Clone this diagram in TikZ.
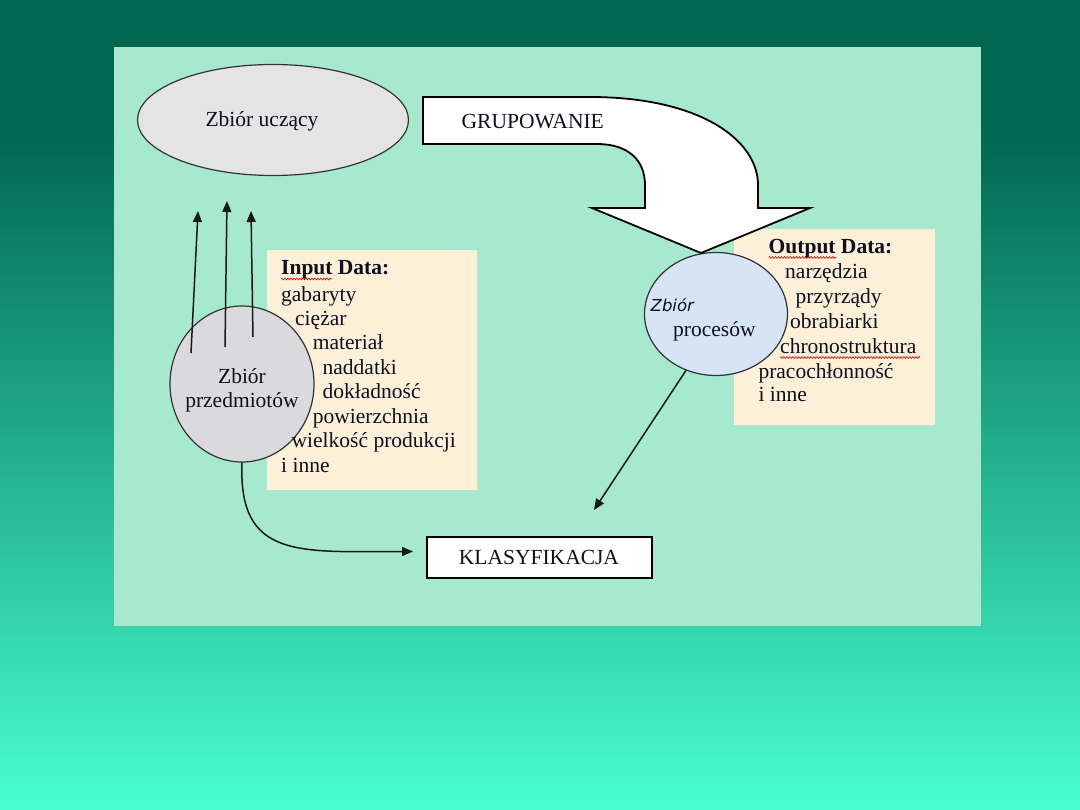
\documentclass[tikz,border=0pt]{standalone}
\usepackage{fontspec}
\setmainfont{Liberation Serif}
\newfontfamily\zbsans{DejaVu Sans}
\usetikzlibrary{arrows.meta,decorations.pathmorphing,shapes.geometric}
\definecolor{bgdark}{RGB}{0,102,79}
\definecolor{bglight}{RGB}{72,255,208}
\definecolor{panel}{RGB}{166,233,206}
\definecolor{beige}{RGB}{252,240,217}
\definecolor{ucz}{RGB}{228,228,228}
\definecolor{przed}{RGB}{218,218,222}
\definecolor{proc}{RGB}{214,228,245}
\definecolor{ink}{RGB}{15,15,30}
\begin{document}
\begin{tikzpicture}[x=1pt,y=-1pt,
  txt/.style={anchor=base west, inner sep=0pt, font=\fontsize{21.5}{24}\selectfont, text=ink},
  ctxt/.style={anchor=base, inner sep=0pt, font=\fontsize{21.5}{24}\selectfont, text=ink},
  databox/.style={fill=beige, draw=none},
  blob/.style={ellipse, draw=black!80, line width=1.2pt, inner sep=0pt},
  conn/.style={draw=black!90, line width=1.5pt, -{Triangle[length=11pt,width=9pt]}},
  squig/.style={draw=red!85!black, line width=0.6pt, decorate, decoration={snake, amplitude=0.9pt, segment length=3pt}}]
\useasboundingbox (0,0) rectangle (1080,810);
% background
\fill[bgdark] (0,0) rectangle (1080,131);
\shade[top color=bgdark, bottom color=bglight] (0,130) rectangle (1080,810);
\fill[panel] (114,47) rectangle (981,626);
% data boxes
\fill[databox] (267,250) rectangle (477,490);
\fill[databox] (734,229) rectangle (935,425);
% blobs
\node[blob, fill=ucz, minimum width=271pt, minimum height=111pt] (ucz) at (273,120) {};
\node[blob, fill=przed, minimum width=144pt, minimum height=156pt] (przed) at (242,384) {};
\node[blob, fill=proc, minimum width=143pt, minimum height=123pt] (proc) at (716,314) {};
% blob texts
\node[ctxt] (tucz) at (262,127) {Zbiór uczący};
\node[ctxt] (tprz1) at (242,384) {Zbiór};
\node[ctxt] (tprz2) at (242,408) {przedmiotów};
\node[txt, font=\zbsans\itshape\fontsize{16.5}{20}\selectfont] (tpr1) at (650.5,312) {Zbiór};
\node[txt] (tpr2) at (673,336.5) {procesów};
% big arrow GRUPOWANIE
\draw[fill=white, draw=black, line width=1.8pt, line join=miter]
  (423,97) -- (590,97) .. controls (700,97) and (758,140) .. (758,185)
  -- (758,208) -- (810,208) -- (701,253) -- (592,208) -- (645,208) -- (645,185)
  .. controls (645,160) and (628,144) .. (597,144) -- (423,144) -- cycle;
\node[txt] (grup) at (461.5,129) {GRUPOWANIE};
% KLASYFIKACJA
\node[draw=black, line width=2pt, fill=white, minimum width=225pt, minimum height=41.5pt, inner sep=0pt, font=\fontsize{21.5}{24}\selectfont, text=ink] (klas) at (539,557.5) {KLASYFIKACJA};
% input data
\node[txt] (in0) at (281,275) {\textbf{Input Data:}};
\node[txt] (in1) at (281,301.5) {gabaryty};
\node[txt] (in2) at (295,325.5) {ciężar};
\node[txt] (in3) at (312.7,350) {materiał};
\node[txt] (in4) at (322.5,374.5) {naddatki};
\node[txt] (in5) at (322.5,399) {dokładność};
\node[txt] (in6) at (312.7,423.5) {powierzchnia};
\node[txt] (in7) at (291.5,448) {wielkość produkcji};
\node[txt] (in8) at (281,472) {i inne};
\draw[squig] (281,279) -- (332,279);
% output data
\node[txt] (out0) at (768.5,253.5) {\textbf{Output Data:}};
\node[txt] (out1) at (785,278.5) {narzędzia};
\node[txt] (out2) at (795.5,304) {przyrządy};
\node[txt] (out3) at (790,329) {obrabiarki};
\node[txt] (out4) at (780,353.5) {chronostruktura};
\node[txt] (out5) at (758.3,379) {pracochłonność};
\node[txt] (out6) at (758.3,402) {i inne};
\draw[squig] (768.5,257.5) -- (836,257.5);
\draw[squig] (780,357.5) -- (920,357.5);
% connectors
\coordinate (a1s) at (191,353); \coordinate (a1e) at (198,211);
\coordinate (a2s) at (225,347); \coordinate (a2e) at (227,201);
\coordinate (a3s) at (253,337); \coordinate (a3e) at (251,211);
\draw[conn] (a1s) -- (a1e);
\draw[conn] (a2s) -- (a2e);
\draw[conn] (a3s) -- (a3e);
\coordinate (kin) at (413,551.5);
\draw[conn] (przed.south) .. controls (238,560) and (300,551.5) .. (kin);
\coordinate (kin2) at (594,510);
\draw[conn] (proc.242) -- (kin2);
\end{tikzpicture}
\end{document}
